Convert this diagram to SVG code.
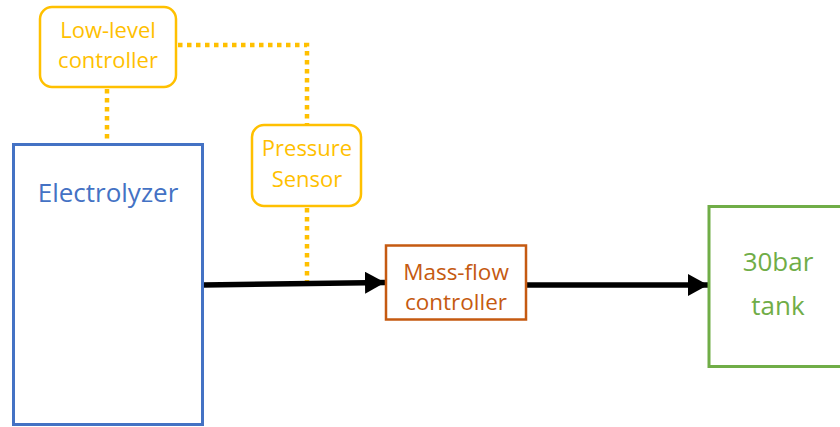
<svg xmlns="http://www.w3.org/2000/svg" width="840" height="427" viewBox="0 0 840 427">
  <style>
    text { font-family: "Open Sans", "Noto Sans", "Liberation Sans", sans-serif; text-anchor: middle; }
    .ctrl { fill: #FFFFFF; stroke: #FFC000; stroke-width: 2.5; }
    .ctrl-t { fill: #FFC000; font-size: 22px; }
    .signal { fill: none; stroke: #FFC000; stroke-width: 4.5; stroke-dasharray: 4.5 4.5; }
    .flow { fill: none; stroke: #000000; stroke-width: 5.5; }
  </style>
  <defs>
    <marker id="arrowhead" markerUnits="userSpaceOnUse" markerWidth="21" markerHeight="22" refX="20" refY="11" orient="auto">
      <path d="M0,0 L20,11 L0,22 Z" fill="#000000"/>
    </marker>
  </defs>

  <!-- connectors -->
  <g id="connectors">
    <path class="signal" d="M107,89 V144"/>
    <path class="signal" d="M178,45 H307 V124"/>
    <path class="signal" d="M307,208 V283"/>
    <path class="flow" d="M203,285 L385,282.5" marker-end="url(#arrowhead)"/>
    <path class="flow" d="M527,285 H708" marker-end="url(#arrowhead)"/>
  </g>

  <!-- nodes -->
  <g id="low-level-controller">
    <rect class="ctrl" x="40" y="7" width="136" height="80" rx="12"/>
    <text class="ctrl-t" x="108" y="38">Low-level</text>
    <text class="ctrl-t" x="108" y="68">controller</text>
  </g>

  <g id="pressure-sensor">
    <rect class="ctrl" x="252" y="125" width="109" height="81" rx="12"/>
    <text class="ctrl-t" x="307" y="156">Pressure</text>
    <text class="ctrl-t" x="307" y="187">Sensor</text>
  </g>

  <g id="electrolyzer">
    <rect x="13.5" y="144.5" width="189" height="280" fill="#FFFFFF" stroke="#4472C4" stroke-width="3"/>
    <text x="108" y="202" fill="#4472C4" font-size="26px">Electrolyzer</text>
  </g>

  <g id="mass-flow-controller">
    <rect x="386" y="245.5" width="140" height="74" fill="#FFFFFF" stroke="#C55A11" stroke-width="2.5"/>
    <text x="456" y="280" fill="#C55A11" font-size="22.5px">Mass-flow</text>
    <text x="456" y="310" fill="#C55A11" font-size="22.5px">controller</text>
  </g>

  <g id="tank">
    <rect x="709" y="206.5" width="140" height="160" fill="#FFFFFF" stroke="#70AD47" stroke-width="3"/>
    <text x="778" y="271" fill="#70AD47" font-size="26px">30bar</text>
    <text x="778" y="315" fill="#70AD47" font-size="26px">tank</text>
  </g>
</svg>
